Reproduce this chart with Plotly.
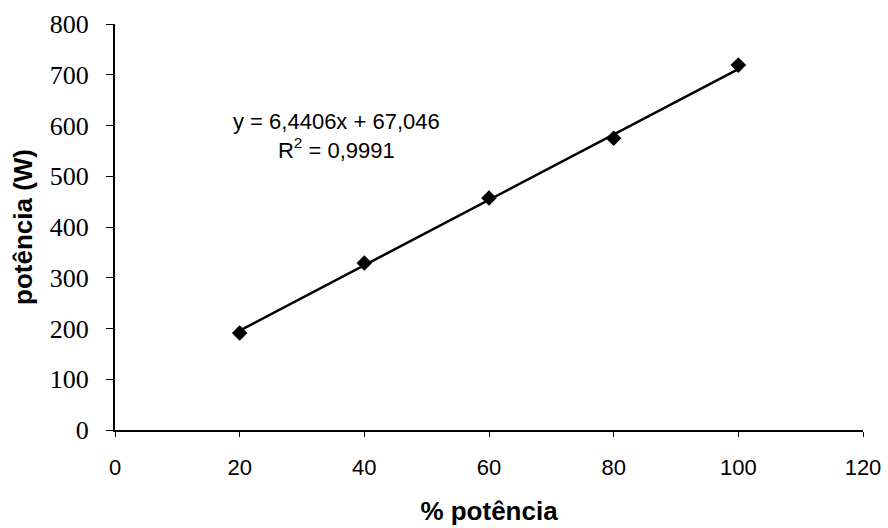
import plotly.graph_objects as go

# Data
pct_power = [20, 40, 60, 80, 100]
power_w = [191, 329, 457, 575, 719]

# Trendline as printed on the chart
slope = 6.4406
intercept = 67.046
r2_text = "0,9991"
trend_x = [20, 100]
trend_y = [slope * x + intercept for x in trend_x]

x_ticks = [0, 20, 40, 60, 80, 100, 120]
y_ticks = [0, 100, 200, 300, 400, 500, 600, 700, 800]

fig = go.Figure()
fig.add_trace(go.Scatter(
    x=trend_x, y=trend_y, mode="lines",
    line=dict(color="black", width=2.5), showlegend=False, hoverinfo="skip"))
fig.add_trace(go.Scatter(
    x=pct_power, y=power_w, mode="markers",
    marker=dict(symbol="diamond", size=12, color="black"), showlegend=False))

fig.add_annotation(x=35.5, y=580, xref="x", yref="y",
                   text="y = 6,4406x + 67,046<br>R<sup>2</sup> = " + r2_text,
                   showarrow=False, align="center",
                   font=dict(family="Liberation Sans, Arial", size=22, color="black"))

fig.update_layout(
    width=888, height=528,
    margin=dict(l=115, r=25, t=24, b=98),
    paper_bgcolor="white", plot_bgcolor="white",
    xaxis=dict(range=[0, 120], tickvals=x_ticks, ticktext=[str(v) for v in x_ticks],
               showline=True, linecolor="black", linewidth=2,
               ticks="outside", ticklen=5, tickcolor="black", tickwidth=1,
               ticklabelstandoff=12, automargin=False,
               showgrid=False, zeroline=False,
               tickfont=dict(family="Liberation Sans, Arial", size=22, color="black"),
               title=dict(text="<b>% potência</b>", standoff=22,
                          font=dict(family="Liberation Sans, Arial", size=26, color="black"))),
    yaxis=dict(range=[0, 800], tickvals=y_ticks, ticktext=[str(v) for v in y_ticks],
               showline=True, linecolor="black", linewidth=2,
               ticks="outside", ticklen=7, tickcolor="black", tickwidth=1,
               ticklabelstandoff=12, automargin=False,
               showgrid=False, zeroline=False,
               tickfont=dict(family="Liberation Serif, Times New Roman", size=26, color="black"),
               title=dict(text="<b>potência (W)</b>", standoff=10,
                          font=dict(family="Liberation Sans, Arial", size=26, color="black"))),
)

fig.write_html("out.html")
